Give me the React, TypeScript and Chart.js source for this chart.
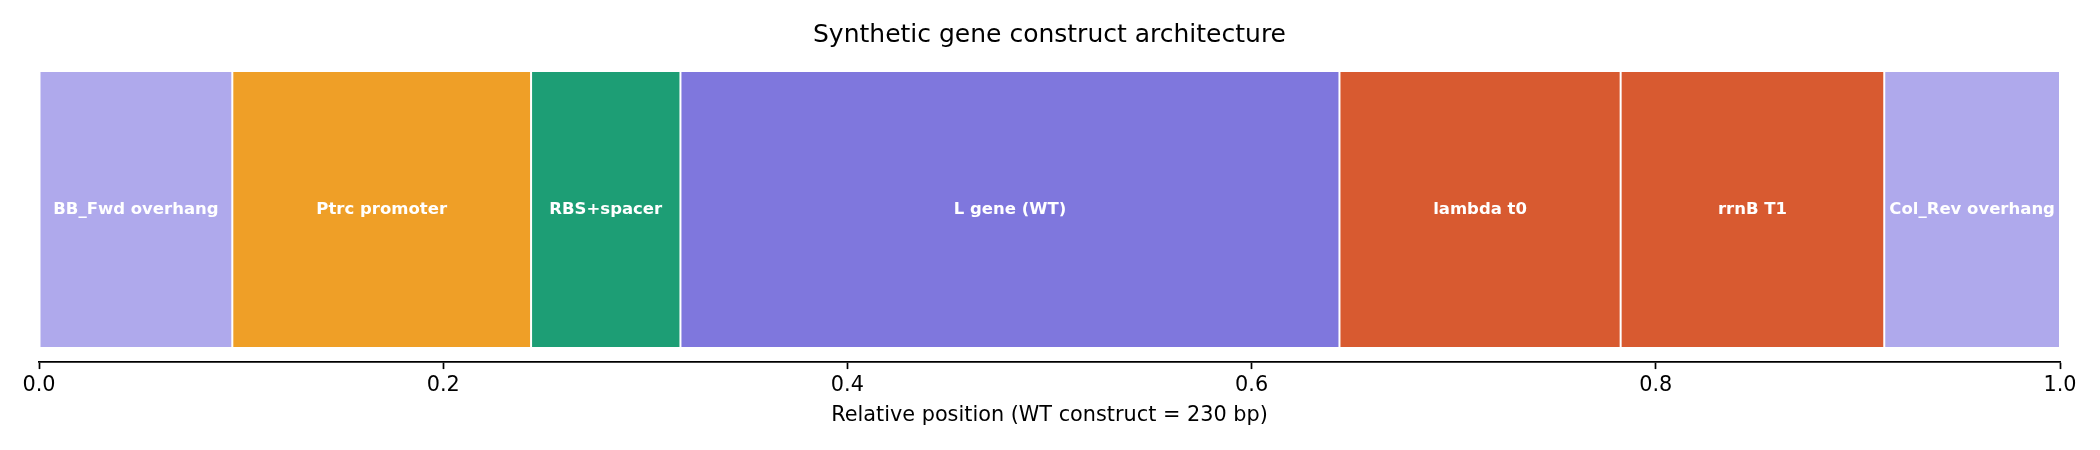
import { useEffect, useRef } from 'react';
import { Chart, registerables } from 'chart.js';
import type { Plugin } from 'chart.js';

Chart.register(...registerables);

// construct parts, left to right
const segmentNames = [
  'BB_Fwd overhang',
  'Ptrc promoter',
  'RBS+spacer',
  'L gene (WT)',
  'lambda t0',
  'rrnB T1',
  'Col_Rev overhang',
];
const segmentBp = [22, 34, 17, 75, 32, 30, 20];
const segmentColors = ['#AFA9EC', '#EF9F27', '#1D9E75', '#7F77DD', '#D85A30', '#D85A30', '#AFA9EC'];
const totalBp = 230;
const rowLabels = ['construct'];

const FONT = '"DejaVu Sans", sans-serif';

// draws the part names in the middle of each block
const segmentLabels: Plugin<'bar'> = {
  id: 'segmentLabels',
  afterDatasetsDraw(chart) {
    const { ctx } = chart;
    ctx.save();
    ctx.font = `bold 16.5px ${FONT}`;
    ctx.fillStyle = '#ffffff';
    ctx.textAlign = 'center';
    ctx.textBaseline = 'middle';
    chart.data.datasets.forEach((ds, i) => {
      const meta = chart.getDatasetMeta(i);
      meta.data.forEach((el: any) => {
        const cx = (el.x + el.base) / 2;
        ctx.fillText(String(ds.label), cx, el.y);
      });
    });
    ctx.restore();
  },
};

export default function App() {
  const canvasRef = useRef<HTMLCanvasElement>(null);
  const chartRef = useRef<Chart | null>(null);

  useEffect(() => {
    document.body.style.margin = '0';
    if (!canvasRef.current) return;
    if (chartRef.current) chartRef.current.destroy();

    chartRef.current = new Chart(canvasRef.current, {
      type: 'bar',
      data: {
        labels: rowLabels,
        datasets: segmentNames.map((name, i) => ({
          label: name,
          data: [segmentBp[i] / totalBp],
          backgroundColor: segmentColors[i],
          borderColor: '#ffffff',
          borderWidth: 1,
          borderSkipped: false,
          barPercentage: 1,
          categoryPercentage: 0.908,
        })),
      },
      options: {
        indexAxis: 'y',
        responsive: true,
        maintainAspectRatio: false,
        animation: false,
        layout: { padding: { left: 39, right: 40, top: 0, bottom: 22 } },
        plugins: {
          legend: { display: false },
          tooltip: { enabled: false },
          title: {
            display: true,
            text: 'Synthetic gene construct architecture',
            color: '#000000',
            font: { family: FONT, size: 25, weight: 'normal' },
            padding: { top: 20, bottom: 7 },
          },
        },
        scales: {
          x: {
            stacked: true,
            min: 0,
            max: 1,
            ticks: {
              stepSize: 0.2,
              color: '#000000',
              padding: 4,
              font: { family: FONT, size: 20.8 },
              callback: (v) => Number(v).toFixed(1),
            },
            grid: {
              drawOnChartArea: false,
              drawTicks: true,
              tickLength: 7,
              tickWidth: 1.7,
              tickColor: '#000000',
            },
            border: { display: true, color: '#000000', width: 1.7 },
            title: {
              display: true,
              text: 'Relative position (WT construct = 230 bp)',
              color: '#000000',
              font: { family: FONT, size: 20.8 },
              padding: { top: 1, bottom: 0 },
            },
          },
          y: {
            stacked: true,
            display: false,
          },
        },
      },
      plugins: [segmentLabels],
    });

    return () => {
      chartRef.current?.destroy();
      chartRef.current = null;
    };
  }, []);

  return (
    <div style={{ width: '2100px', height: '450px', background: '#ffffff' }}>
      <canvas ref={canvasRef} />
    </div>
  );
}
